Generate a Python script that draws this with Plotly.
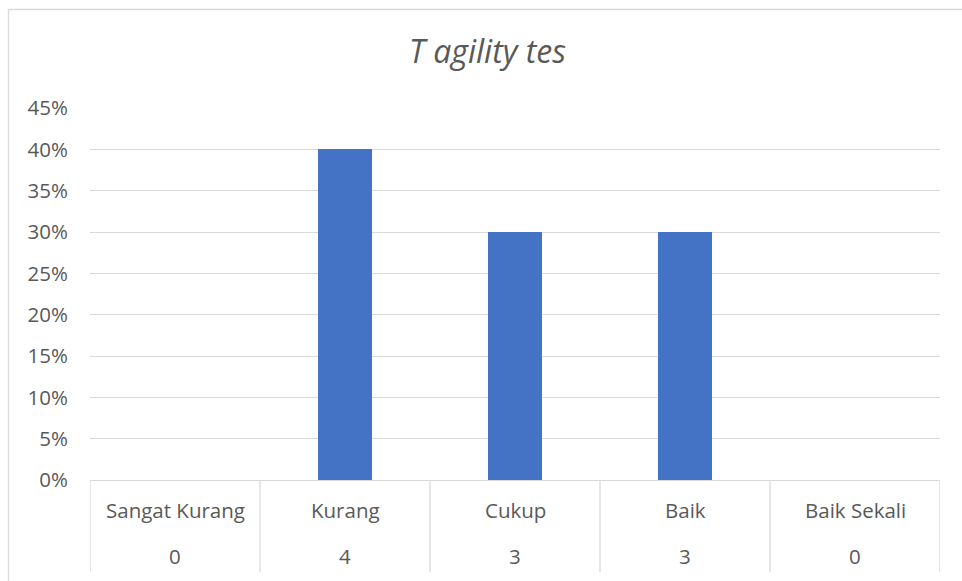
import plotly.graph_objects as go

# Category labels, counts and percentage shares
categories = ["Sangat Kurang", "Kurang", "Cukup", "Baik", "Baik Sekali"]
counts = [0, 4, 3, 3, 0]
shares = [0.0, 0.40, 0.30, 0.30, 0.0]
y_ticks = [0.0, 0.05, 0.10, 0.15, 0.20, 0.25, 0.30, 0.35, 0.40, 0.45]

FONT = "Open Sans"
TEXT = "#595959"
GRID = "#d9d9d9"
LABEL_SIZE = 20.5

W, H = 962, 581
L, R, T, B = 90, 22, 108, 101
plot_h = H - T - B

fig = go.Figure()
fig.add_trace(go.Bar(
    x=categories, y=shares, width=0.32,
    marker=dict(color="#4472C4", line=dict(width=0)),
    hoverinfo="x+y",
))

def py(px):
    """pixel row -> paper y coordinate"""
    return (H - B - px) / plot_h

annotations = []
shapes = []
for name, n in zip(categories, counts):
    annotations.append(dict(x=name, y=py(510), xref="x", yref="paper",
                            text=name, showarrow=False, yanchor="middle",
                            font=dict(family=FONT, size=LABEL_SIZE, color=TEXT)))
    annotations.append(dict(x=name, y=py(556), xref="x", yref="paper",
                            text=str(n), showarrow=False, yanchor="middle",
                            font=dict(family=FONT, size=LABEL_SIZE, color=TEXT)))

# vertical dividers of the two-row category table
for i in range(len(categories) + 1):
    shapes.append(dict(type="line", xref="x", yref="paper",
                       x0=i - 0.5, x1=i - 0.5, y0=0, y1=py(572),
                       line=dict(color=GRID, width=1.3)))

# outer chart frame
shapes.append(dict(type="rect", xref="paper", yref="paper",
                   x0=(8.5 - L) / (W - L - R), x1=(990 - L) / (W - L - R),
                   y0=py(600), y1=py(9.5),
                   line=dict(color=GRID, width=1.3), fillcolor="rgba(0,0,0,0)",
                   layer="below"))

fig.update_layout(
    width=W, height=H,
    margin=dict(l=L, r=R, t=T, b=B),
    paper_bgcolor="white", plot_bgcolor="white",
    showlegend=False,
    title=dict(text="T agility tes", x=487.5 / W, xref="container", xanchor="center",
               y=1 - 52 / H, yref="container", yanchor="middle",
               font=dict(family=FONT, size=32, color=TEXT, style="italic")),
    xaxis=dict(type="category", range=[-0.5, 4.5], showticklabels=False,
               showgrid=False, zeroline=False, showline=True,
               linecolor=GRID, linewidth=1.3, ticks=""),
    yaxis=dict(range=[0, 0.45], tickvals=y_ticks, tickformat=".0%",
               showgrid=True, gridcolor=GRID, gridwidth=1.3,
               zeroline=False, showline=False, ticks="",
               ticklabelstandoff=21,
               tickfont=dict(family=FONT, size=LABEL_SIZE, color=TEXT)),
    annotations=annotations,
    shapes=shapes,
    bargap=0,
)

fig.write_html("out.html")
